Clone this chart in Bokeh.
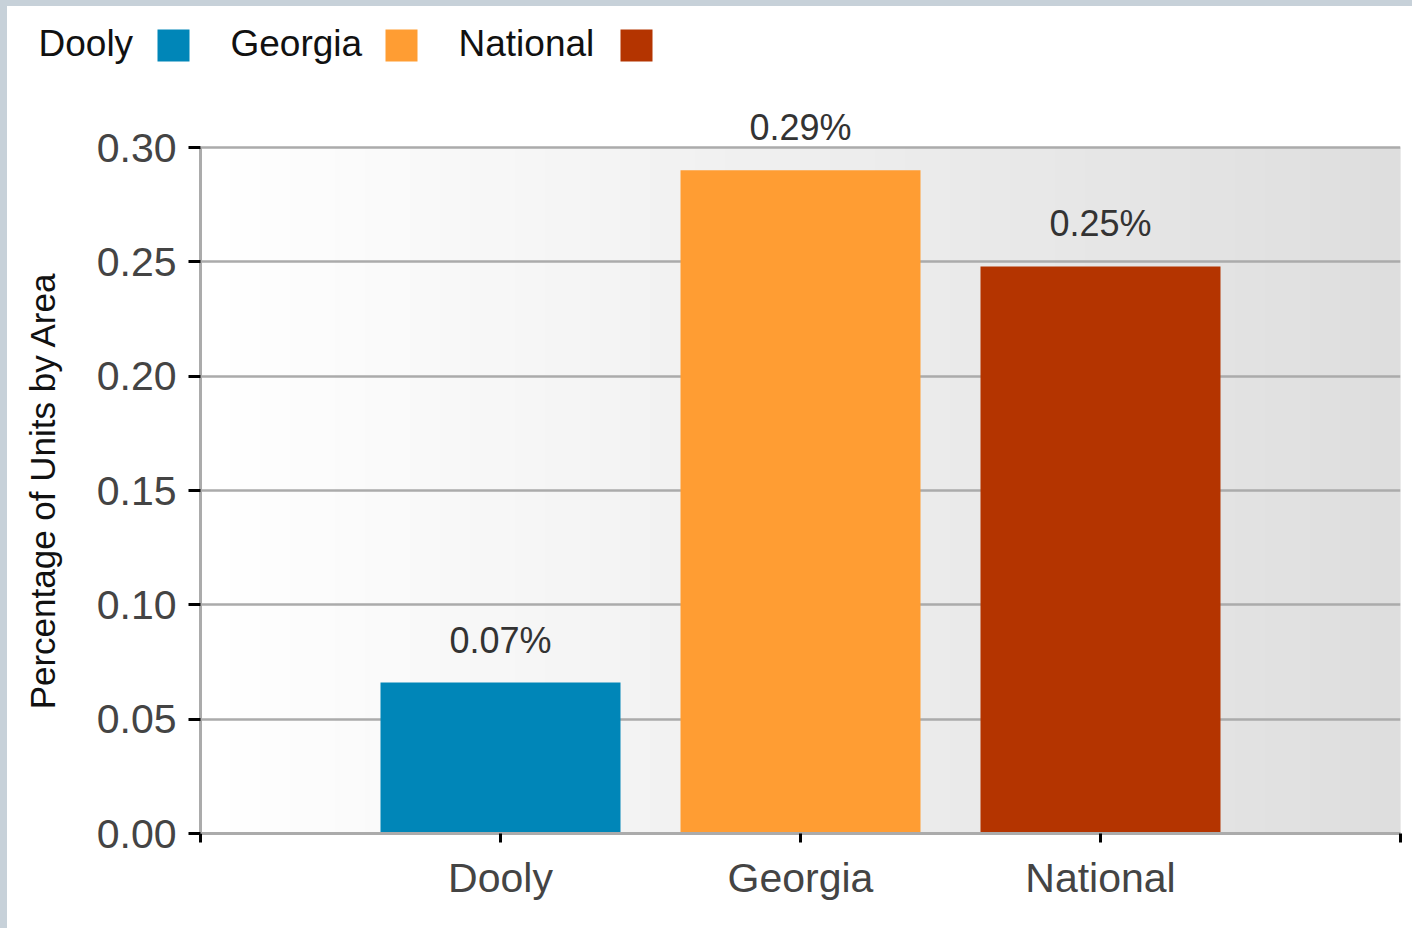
import numpy as np
from bokeh.plotting import figure
from bokeh.models import ColumnDataSource, Range1d, FixedTicker, NumeralTickFormatter, LabelSet, Div
from bokeh.layouts import column, row
from bokeh.embed import file_html
from bokeh.resources import INLINE
from bokeh.core.properties import value

# ---- data ----
categories = ["Dooly", "Georgia", "National"]
values = [0.066, 0.290, 0.248]
value_labels = ["0.07%", "0.29%", "0.25%"]
colors = ["#0086B8", "#FF9D33", "#B43400"]
y_ticks = [0.00, 0.05, 0.10, 0.15, 0.20, 0.25, 0.30]
y_max = 0.30
y_title = "Percentage of Units by Area"

# ---- styles / layout ----
FONT = "Liberation Sans"
BORDER = "#C7D1D9"
legend_text_x = [31, 223, 451]
legend_box_x = [150, 378, 613]

TITLE_W = 66
FIG_W, FIG_H = 1405 - TITLE_W, 822
B_LEFT, B_RIGHT, B_BOTTOM = 193 - TITLE_W, 12, 95
AXIS_PX = 686  # pixels spanned by 0..y_max
frame_h = FIG_H - B_BOTTOM
view_top = y_max * frame_h / AXIS_PX  # headroom above the plot area for the value labels

positions = list(range(1, len(categories) + 1))
x_max = len(categories) + 1

src = ColumnDataSource(dict(x=positions, top=values, color=colors, label=value_labels))

p = figure(width=FIG_W, height=FIG_H, x_range=Range1d(0, x_max), y_range=Range1d(0, view_top),
           output_backend="svg", toolbar_location=None,
           min_border_left=B_LEFT, min_border_right=B_RIGHT, min_border_top=0, min_border_bottom=B_BOTTOM)
p.frame_align = False
p.outline_line_color = None
p.background_fill_color = "white"
p.border_fill_color = "white"

# background gradient (white -> light gray) over the plot area only
n = 80
edges = np.linspace(0, x_max, n + 1)
shades = np.linspace(255, 222, n).round().astype(int)
grad_colors = ["#%02x%02x%02x" % (s, s, s) for s in shades]
p.quad(left=edges[:-1], right=edges[1:], bottom=0, top=y_max,
       fill_color=grad_colors, line_color=grad_colors, line_width=1, level="image")

p.vbar(x="x", top="top", bottom=0, width=0.8, fill_color="color", line_color=None, source=src)

p.add_layout(LabelSet(x="x", y="top", text="label", source=src, text_align="center",
                      text_baseline="alphabetic", y_offset=30,
                      text_font=value(FONT), text_font_size="36px", text_color="#333333"))

p.xgrid.visible = False
p.ygrid.grid_line_color = "#ABABAB"
p.ygrid.grid_line_width = 2.5

p.yaxis.ticker = FixedTicker(ticks=y_ticks)
p.yaxis.bounds = (0, y_max)
p.yaxis.formatter = NumeralTickFormatter(format="0.00")

p.xaxis.ticker = FixedTicker(ticks=list(range(0, x_max + 1)))
overrides = {0: "", x_max: ""}
for i, c in enumerate(categories):
    overrides[i + 1] = c
p.xaxis.major_label_overrides = overrides

for ax in (p.xaxis, p.yaxis):
    ax.axis_line_color = "#ABABAB"
    ax.axis_line_width = 3
    ax.major_tick_line_color = "black"
    ax.major_tick_line_width = 3
    ax.major_tick_in = 0
    ax.minor_tick_line_color = None
    ax.major_label_text_font = FONT
    ax.major_label_text_font_size = "41px"
    ax.major_label_text_color = "#444444"
p.yaxis.major_tick_out = 12
p.yaxis.major_label_standoff = 12
p.xaxis.major_tick_out = 9
p.xaxis.major_label_standoff = 12

# ---- y-axis title strip (vertical text, centred on the 0..y_max plot area) ----
tf = figure(width=TITLE_W, height=FIG_H, x_range=Range1d(0, TITLE_W), y_range=Range1d(0, FIG_H),
            output_backend="svg", toolbar_location=None, min_border=0,
            x_axis_location=None, y_axis_location=None)
tf.frame_align = False
tf.grid.visible = False
tf.outline_line_color = None
tf.background_fill_color = "white"
tf.border_fill_color = "white"
tf.text(x=[35], y=[B_BOTTOM + AXIS_PX / 2], text=[y_title], angle=np.pi / 2,
        text_font=value(FONT), text_font_size="35px", text_color="#111111",
        text_align="center", text_baseline="middle")

# ---- legend (label then swatch) ----
lg = figure(width=1405, height=100, x_range=Range1d(0, 1405), y_range=Range1d(0, 100),
            output_backend="svg", toolbar_location=None, min_border=0,
            x_axis_location=None, y_axis_location=None)
lg.frame_align = False
lg.grid.visible = False
lg.outline_line_color = None
lg.background_fill_color = "white"
lg.border_fill_color = "white"
lg.text(x=legend_text_x, y=[63] * len(categories), text=categories,
        text_font=value(FONT), text_font_size="37px", text_color="#111111",
        text_baseline="alphabetic", text_align="left")
lg.quad(left=legend_box_x, right=[v + 32 for v in legend_box_x],
        bottom=[45] * len(categories), top=[77] * len(categories),
        fill_color=colors, line_color=None)

top_bar = Div(text="", width=1412, height=6, margin=0, styles={"background-color": BORDER})
left_bar = Div(text="", width=7, height=922, margin=0, styles={"background-color": BORDER})
layout = column(top_bar,
                row(left_bar, column(lg, row(tf, p, spacing=0), spacing=0), spacing=0),
                spacing=0)

open("out.html", "w").write(file_html(layout, INLINE))
